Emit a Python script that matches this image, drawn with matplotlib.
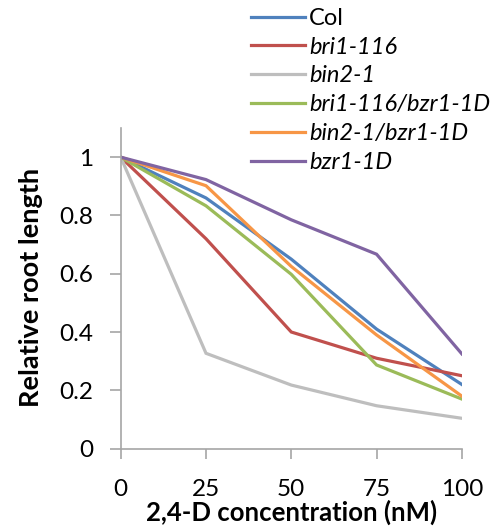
import matplotlib
matplotlib.use("Agg")
import matplotlib.pyplot as plt

plt.rcParams['font.family'] = ['Lato', 'DejaVu Sans']

# data
conc = [0, 25, 50, 75, 100]
col = [1.0, 0.86, 0.65, 0.41, 0.22]
bri1_116 = [1.0, 0.72, 0.40, 0.31, 0.25]
bin2_1 = [1.0, 0.327, 0.218, 0.147, 0.104]
bri1_bzr1 = [1.0, 0.833, 0.598, 0.287, 0.17]
bin2_bzr1 = [1.0, 0.902, 0.625, 0.39, 0.18]
bzr1_1d = [1.0, 0.923, 0.785, 0.667, 0.325]

labels = ['Col', 'bri1-116', 'bin2-1', 'bri1-116/bzr1-1D', 'bin2-1/bzr1-1D', 'bzr1-1D']
colors = ['#4F81BD', '#C0504D', '#BEBEBE', '#9BBB59', '#F79646', '#8064A2']
series = [col, bri1_116, bin2_1, bri1_bzr1, bin2_bzr1, bzr1_1d]

fig = plt.figure(figsize=(4.98, 5.29), dpi=100)
ax = fig.add_axes([0.2424, 0.152, 0.685, 0.606])

for vals, lab, c in zip(series, labels, colors):
    ax.plot(conc, vals, color=c, lw=2.3, label=lab, solid_joinstyle='miter')

ax.set_xlim(0, 100)
ax.set_ylim(0, 1.1)
ax.set_xticks(conc)
ax.set_xticklabels(['0', '25', '50', '75', '100'])
ax.set_yticks([0, 0.2, 0.4, 0.6, 0.8, 1.0])
ax.set_yticklabels(['0', '0.2', '0.4', '0.6', '0.8', '1'])

for s in ['top', 'right']:
    ax.spines[s].set_visible(False)
for s in ['left', 'bottom']:
    ax.spines[s].set_color('#A6A6A6')
    ax.spines[s].set_linewidth(1.2)
ax.tick_params(axis='both', colors='#A6A6A6', labelcolor='black', labelsize=17.5, width=1.2)
ax.tick_params(axis='x', length=7, pad=15)
ax.tick_params(axis='y', length=8, pad=12)

fig.text(0.585, 0.031, '2,4-D concentration (nM)', ha='center', va='center',
         fontsize=18.5, fontweight='bold')
fig.text(0.062, 0.457, 'Relative root length', ha='center', va='center',
         rotation=90, fontsize=19.5, fontweight='bold')

leg = fig.legend(loc='upper left', bbox_to_anchor=(0.486, 1.003), frameon=False,
                 fontsize=17, handlelength=2.25, handletextpad=0.2,
                 labelspacing=0.33, borderaxespad=0)
for i, t in enumerate(leg.get_texts()):
    if i > 0:
        t.set_style('italic')

fig.savefig('out.png', dpi=100)
